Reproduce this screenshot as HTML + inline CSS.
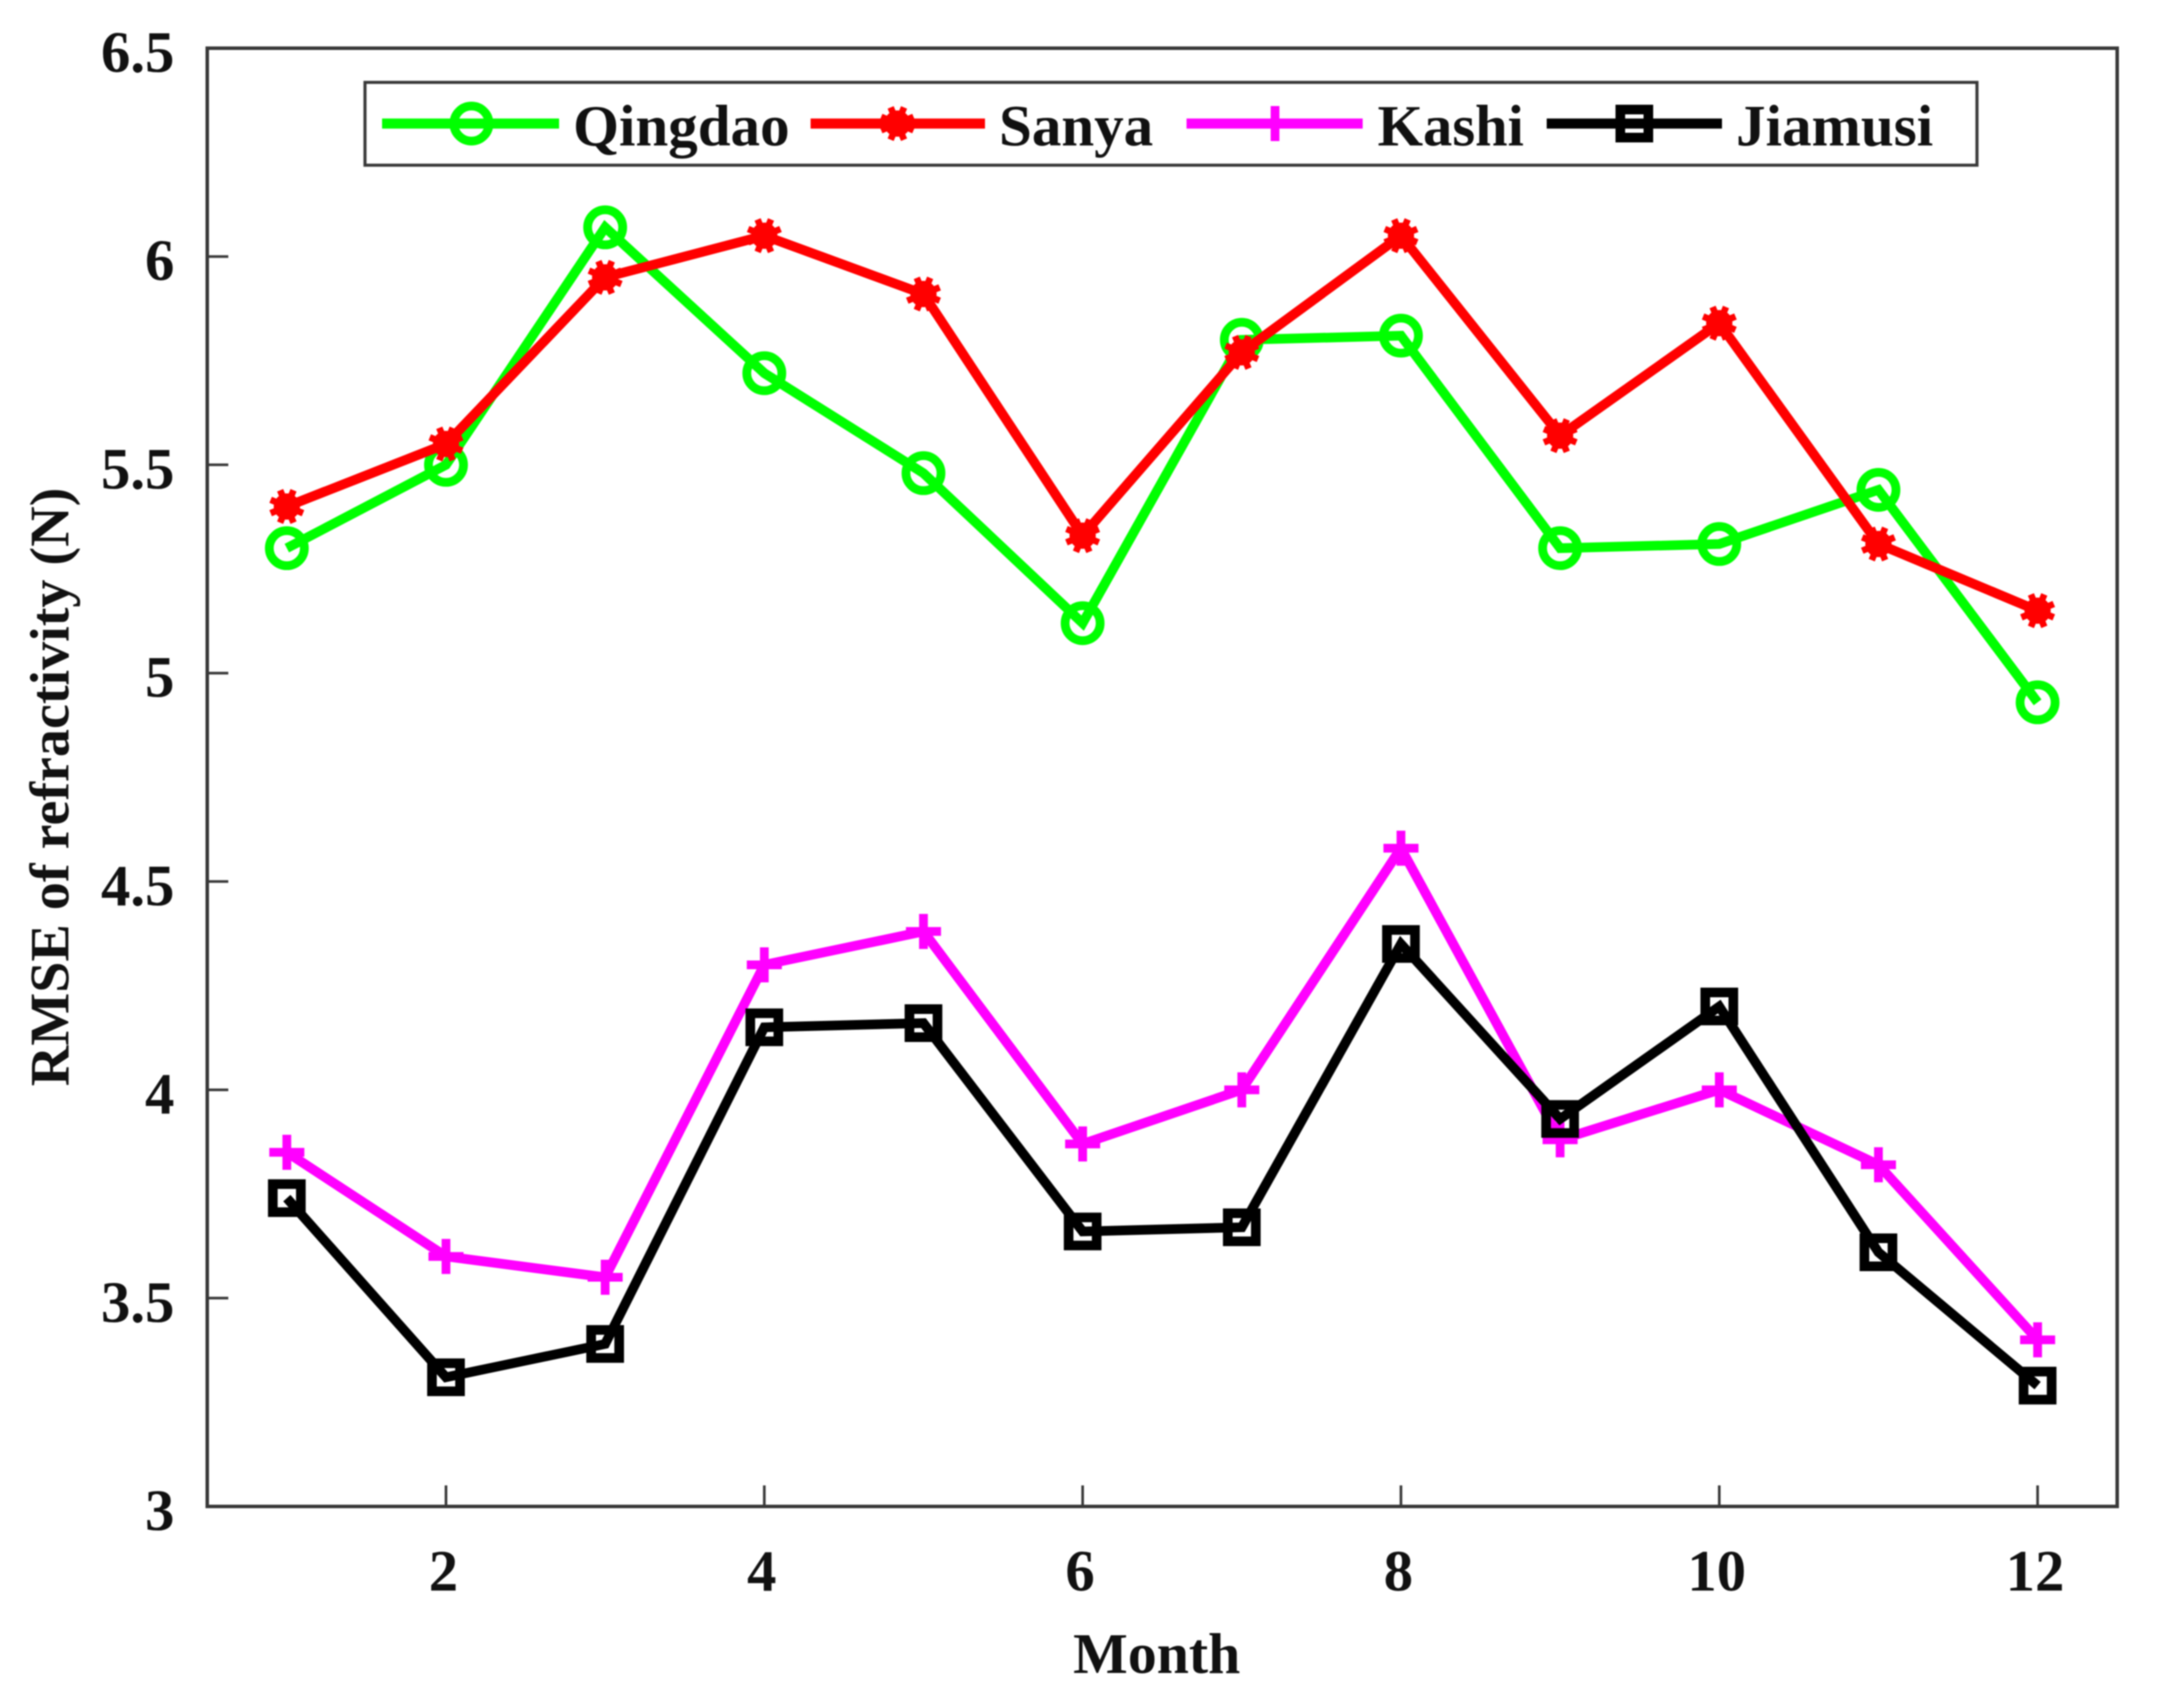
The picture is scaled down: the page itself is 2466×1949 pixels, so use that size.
<!DOCTYPE html>
<html lang="en">
<head>
<meta charset="utf-8">
<title>RMSE of refractivity by month</title>
<style>
html,body{margin:0;padding:0;background:#fff;}
svg{display:block;}
text{font-family:"Liberation Serif",serif;font-weight:700;fill:#111;}
.soft{filter:blur(0.7px);}
</style>
</head>
<body>
<svg id="chart" xmlns="http://www.w3.org/2000/svg" width="2466" height="1949" viewBox="0 0 2466 1949">
  <g class="soft">
    <rect x="236.5" y="55" width="2179.5" height="1664" fill="none" stroke="#383838" stroke-width="4"/>
    <g id="ticks"></g>
    <g id="series"></g>
    <g>
      <rect x="416.5" y="94" width="1839.5" height="94.5" fill="#fff" stroke="#383838" stroke-width="3.5"/>
      <g>
        <line x1="436" y1="141" x2="638" y2="141" stroke="#00ff00" stroke-width="11.5"/>
        <circle cx="538" cy="141" r="20" fill="none" stroke="#00ff00" stroke-width="10"/>
        <text x="654" y="166" font-size="67" textLength="247" lengthAdjust="spacingAndGlyphs">Qingdao</text>
      </g>
      <g>
        <line x1="925" y1="141" x2="1124" y2="141" stroke="#ff0000" stroke-width="11.5"/>
        <g id="legend-star"></g>
        <text x="1140" y="166" font-size="67" textLength="176" lengthAdjust="spacingAndGlyphs">Sanya</text>
      </g>
      <g>
        <line x1="1354" y1="141" x2="1555" y2="141" stroke="#ff00ff" stroke-width="11.5"/>
        <line x1="1455" y1="121" x2="1455" y2="161" stroke="#ff00ff" stroke-width="10"/>
        <text x="1572" y="166" font-size="67" textLength="167" lengthAdjust="spacingAndGlyphs">Kashi</text>
      </g>
      <g>
        <line x1="1765" y1="141" x2="1965" y2="141" stroke="#000" stroke-width="11.5"/>
        <rect x="1849" y="125" width="32" height="32" fill="none" stroke="#000" stroke-width="11"/>
        <text x="1981" y="166" font-size="67" textLength="225" lengthAdjust="spacingAndGlyphs">Jiamusi</text>
      </g>
    </g>
    <text x="1320" y="1909" font-size="66" text-anchor="middle">Month</text>
    <text transform="translate(78,898) rotate(-90)" font-size="64" text-anchor="middle">RMSE of refractivity (N)</text>
  </g>
</svg>
<script>
const months = [1, 2, 3, 4, 5, 6, 7, 8, 9, 10, 11, 12];
const qingdao = [5.30, 5.50, 6.07, 5.72, 5.48, 5.12, 5.80, 5.81, 5.30, 5.31, 5.44, 4.93];
const sanya = [5.40, 5.55, 5.95, 6.05, 5.91, 5.33, 5.77, 6.05, 5.57, 5.84, 5.31, 5.15];
const kashi = [3.85, 3.60, 3.55, 4.30, 4.38, 3.87, 4.00, 4.58, 3.88, 4.00, 3.82, 3.40];
const jiamusi = [3.74, 3.31, 3.39, 4.15, 4.16, 3.66, 3.67, 4.35, 3.93, 4.20, 3.61, 3.29];
const xTicks = [2, 4, 6, 8, 10, 12];
const yTicks = [3, 3.5, 4, 4.5, 5, 5.5, 6, 6.5];

const NS = 'http://www.w3.org/2000/svg';
const xScale = function (m) { return 236.5 + (m - 0.5) * (2179.5 / 12); };
const yScale = function (v) { return 55 + (6.5 - v) * (1664 / 3.5); };

function make(tag, attrs, parent) {
  const el = document.createElementNS(NS, tag);
  for (const k in attrs) el.setAttribute(k, attrs[k]);
  parent.appendChild(el);
  return el;
}

const tickLayer = document.getElementById('ticks');
xTicks.forEach(function (t) {
  const px = xScale(t);
  const mark = make('line', { x1: px, x2: px, y1: 1719, y2: 1695, stroke: '#383838', 'stroke-width': 3 }, tickLayer);
  
  
  const label = make('text', { x: px - 3, y: 1815, 'font-size': 67, 'text-anchor': 'middle' }, tickLayer);
  
  
  label.textContent = String(t);
});
yTicks.forEach(function (t) {
  const py = yScale(t);
  if (t > 3 && t < 6.5) {
    const mark = make('line', { x1: 236.5, x2: 260.5, y1: py, y2: py, stroke: '#383838', 'stroke-width': 3 }, tickLayer);
    
    
  }
  const label = make('text', { x: 199, y: py + 27, 'font-size': 67, 'text-anchor': 'end' }, tickLayer);
  
  
  label.textContent = String(t);
});

function drawCircle(g, px, py, color) {
  make('circle', { cx: px, cy: py, r: 20, fill: 'none', stroke: color, 'stroke-width': 10 }, g);
}
function drawStar(g, px, py, color) {
  make('circle', { cx: px, cy: py, r: 15, fill: color }, g);
  for (let i = 0; i < 4; i++) {
    const a = i * Math.PI / 4 + Math.PI / 8;
    const dx = Math.cos(a) * 20, dy = Math.sin(a) * 20;
    make('line', { x1: px - dx, y1: py - dy, x2: px + dx, y2: py + dy, stroke: color, 'stroke-width': 7.5 }, g);
  }
}
function drawPlus(g, px, py, color) {
  make('line', { x1: px - 20, y1: py, x2: px + 20, y2: py, stroke: color, 'stroke-width': 10 }, g);
  make('line', { x1: px, y1: py - 20, x2: px, y2: py + 20, stroke: color, 'stroke-width': 10 }, g);
}
function drawSquare(g, px, py, color) {
  make('rect', { x: px - 16, y: py - 16, width: 32, height: 32, fill: 'none', stroke: color, 'stroke-width': 11 }, g);
}

const seriesLayer = document.getElementById('series');
function drawSeries(key, values, color, marker) {
  const g = make('g', {}, seriesLayer);
  
  
  const pts = values.map(function (v, i) { return xScale(months[i]) + ',' + yScale(v); }).join(' ');
  const line = make('polyline', { points: pts, fill: 'none', stroke: color, 'stroke-width': 11, 'stroke-linejoin': 'miter' }, g);
  
  
  values.forEach(function (v, i) {
    const m = make('g', {}, g);
    
    
    marker(m, xScale(months[i]), yScale(v), color);
  });
}
drawSeries('qingdao', qingdao, '#00ff00', drawCircle);
drawSeries('sanya', sanya, '#ff0000', drawStar);
drawSeries('kashi', kashi, '#ff00ff', drawPlus);
drawSeries('jiamusi', jiamusi, '#000000', drawSquare);

drawStar(document.getElementById('legend-star'), 1024, 141, '#ff0000');
</script>
</body>
</html>
